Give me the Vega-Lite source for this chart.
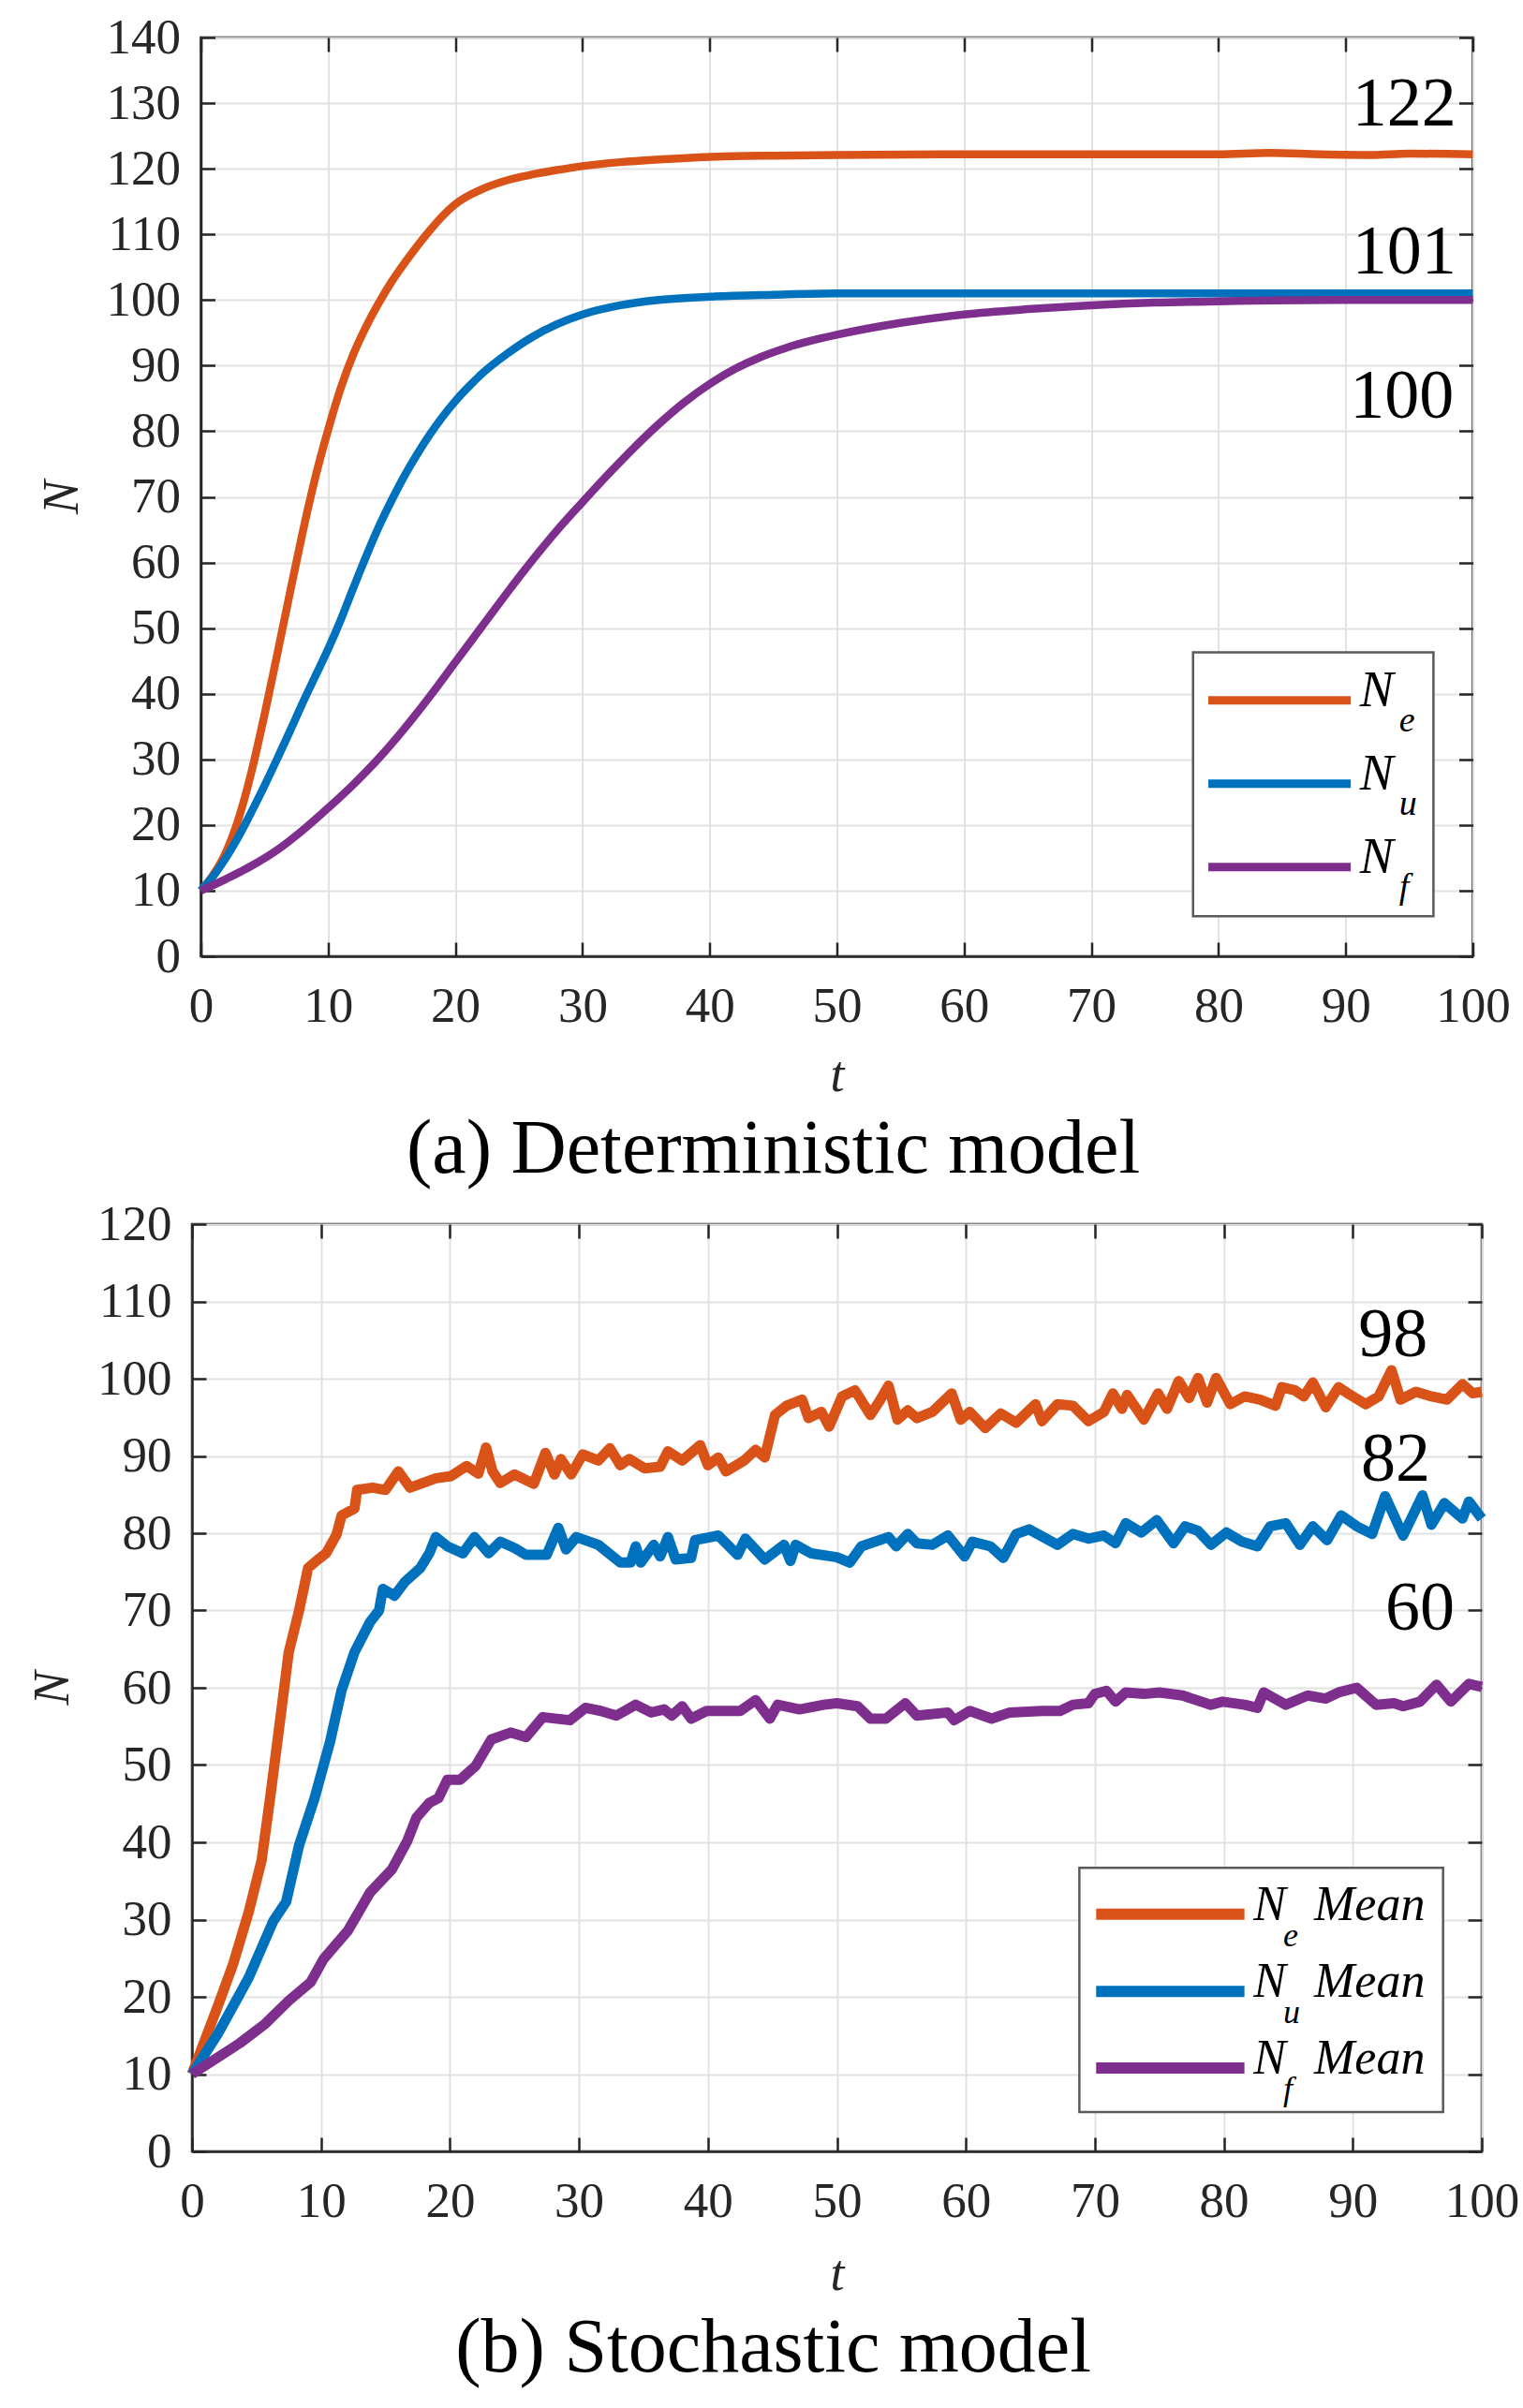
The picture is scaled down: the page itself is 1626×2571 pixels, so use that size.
{
  "$schema": "https://vega.github.io/schema/vega-lite/v6.json",
  "description": "Deterministic and stochastic model of N over t",
  "background": "white",
  "padding": {"left": 28, "top": 12, "right": 0, "bottom": 10},
  "spacing": 9,
  "center": true,
  "config": {
    "font": "Liberation Serif",
    "view": {"stroke": "#262626", "strokeWidth": 2.5},
    "axis": {
      "labelFont": "Liberation Serif",
      "labelFontSize": 53,
      "labelColor": "#262626",
      "labelFlush": false,
      "labelOverlap": false,
      "labelBound": false,
      "tickSize": -15,
      "tickWidth": 2.5,
      "tickColor": "#262626",
      "domainColor": "#262626",
      "domainWidth": 2.5,
      "gridColor": "#e2e2e2",
      "gridWidth": 2,
      "gridOpacity": 1,
      "titleFont": "Liberation Serif",
      "titleFontSize": 54,
      "titleFontStyle": "italic",
      "titleFontWeight": "normal",
      "titleColor": "#262626"
    },
    "axisX": {"titlePadding": 20, "labelPadding": 42},
    "axisY": {"titlePadding": 20, "labelPadding": 37},
    "title": {
      "font": "Liberation Serif",
      "fontSize": 82,
      "fontWeight": "normal",
      "color": "black",
      "orient": "bottom",
      "anchor": "middle",
      "frame": "bounds",
      "offset": 12
    },
    "text": {"font": "Liberation Serif", "color": "black"}
  },
  "datasets": {
    "det": [
      {"s": "Ne", "t": 0, "N": 10}, {"s": "Ne", "t": 1, "N": 12.5}, {"s": "Ne", "t": 2, "N": 16},
      {"s": "Ne", "t": 3, "N": 21.2}, {"s": "Ne", "t": 4, "N": 28.3}, {"s": "Ne", "t": 5, "N": 36.8},
      {"s": "Ne", "t": 6, "N": 46}, {"s": "Ne", "t": 7, "N": 55.4}, {"s": "Ne", "t": 8, "N": 64.6},
      {"s": "Ne", "t": 9, "N": 73}, {"s": "Ne", "t": 10, "N": 80.2}, {"s": "Ne", "t": 11, "N": 86.6},
      {"s": "Ne", "t": 12, "N": 91.8}, {"s": "Ne", "t": 13, "N": 96}, {"s": "Ne", "t": 14, "N": 99.6},
      {"s": "Ne", "t": 15, "N": 102.8}, {"s": "Ne", "t": 16, "N": 105.6}, {"s": "Ne", "t": 17, "N": 108.2},
      {"s": "Ne", "t": 18, "N": 110.6}, {"s": "Ne", "t": 19, "N": 112.8}, {"s": "Ne", "t": 20, "N": 114.6},
      {"s": "Ne", "t": 22, "N": 116.8}, {"s": "Ne", "t": 24, "N": 118.2}, {"s": "Ne", "t": 26, "N": 119.1},
      {"s": "Ne", "t": 28, "N": 119.8}, {"s": "Ne", "t": 30, "N": 120.4}, {"s": "Ne", "t": 33, "N": 121},
      {"s": "Ne", "t": 36, "N": 121.4}, {"s": "Ne", "t": 40, "N": 121.8}, {"s": "Ne", "t": 45, "N": 122},
      {"s": "Ne", "t": 50, "N": 122.1}, {"s": "Ne", "t": 60, "N": 122.2}, {"s": "Ne", "t": 70, "N": 122.2},
      {"s": "Ne", "t": 80, "N": 122.2}, {"s": "Ne", "t": 84, "N": 122.4}, {"s": "Ne", "t": 88, "N": 122.2},
      {"s": "Ne", "t": 92, "N": 122.1}, {"s": "Ne", "t": 95, "N": 122.3}, {"s": "Ne", "t": 100, "N": 122.2},
      {"s": "Nu", "t": 0, "N": 10}, {"s": "Nu", "t": 1, "N": 12.3}, {"s": "Nu", "t": 2, "N": 15.1},
      {"s": "Nu", "t": 3, "N": 18.4}, {"s": "Nu", "t": 4, "N": 22.1}, {"s": "Nu", "t": 5, "N": 26},
      {"s": "Nu", "t": 6, "N": 30.1}, {"s": "Nu", "t": 7, "N": 34.3}, {"s": "Nu", "t": 8, "N": 38.6},
      {"s": "Nu", "t": 9, "N": 42.7}, {"s": "Nu", "t": 10, "N": 46.8}, {"s": "Nu", "t": 11, "N": 51.3},
      {"s": "Nu", "t": 12, "N": 56.2}, {"s": "Nu", "t": 13, "N": 61}, {"s": "Nu", "t": 14, "N": 65.5},
      {"s": "Nu", "t": 15, "N": 69.5}, {"s": "Nu", "t": 16, "N": 73.2}, {"s": "Nu", "t": 17, "N": 76.5},
      {"s": "Nu", "t": 18, "N": 79.5}, {"s": "Nu", "t": 19, "N": 82.2}, {"s": "Nu", "t": 20, "N": 84.6},
      {"s": "Nu", "t": 21, "N": 86.7}, {"s": "Nu", "t": 22, "N": 88.6}, {"s": "Nu", "t": 24, "N": 91.7},
      {"s": "Nu", "t": 26, "N": 94.3}, {"s": "Nu", "t": 28, "N": 96.3}, {"s": "Nu", "t": 30, "N": 97.8},
      {"s": "Nu", "t": 33, "N": 99.2}, {"s": "Nu", "t": 36, "N": 100}, {"s": "Nu", "t": 40, "N": 100.5},
      {"s": "Nu", "t": 45, "N": 100.8}, {"s": "Nu", "t": 50, "N": 101}, {"s": "Nu", "t": 60, "N": 101},
      {"s": "Nu", "t": 70, "N": 101}, {"s": "Nu", "t": 80, "N": 101}, {"s": "Nu", "t": 90, "N": 101},
      {"s": "Nu", "t": 100, "N": 101},
      {"s": "Nf", "t": 0, "N": 10}, {"s": "Nf", "t": 2, "N": 11.8}, {"s": "Nf", "t": 4, "N": 13.8},
      {"s": "Nf", "t": 6, "N": 16.2}, {"s": "Nf", "t": 8, "N": 19.2}, {"s": "Nf", "t": 10, "N": 22.6},
      {"s": "Nf", "t": 12, "N": 26.2}, {"s": "Nf", "t": 14, "N": 30.2}, {"s": "Nf", "t": 16, "N": 34.7},
      {"s": "Nf", "t": 18, "N": 39.6}, {"s": "Nf", "t": 20, "N": 44.8}, {"s": "Nf", "t": 22, "N": 50},
      {"s": "Nf", "t": 24, "N": 55.2}, {"s": "Nf", "t": 26, "N": 60.2}, {"s": "Nf", "t": 28, "N": 64.9},
      {"s": "Nf", "t": 30, "N": 69.2}, {"s": "Nf", "t": 32, "N": 73.4}, {"s": "Nf", "t": 34, "N": 77.4},
      {"s": "Nf", "t": 36, "N": 81.1}, {"s": "Nf", "t": 38, "N": 84.4}, {"s": "Nf", "t": 40, "N": 87.2},
      {"s": "Nf", "t": 42, "N": 89.5}, {"s": "Nf", "t": 44, "N": 91.3}, {"s": "Nf", "t": 46, "N": 92.7},
      {"s": "Nf", "t": 48, "N": 93.8}, {"s": "Nf", "t": 50, "N": 94.7}, {"s": "Nf", "t": 55, "N": 96.5},
      {"s": "Nf", "t": 60, "N": 97.8}, {"s": "Nf", "t": 65, "N": 98.6}, {"s": "Nf", "t": 70, "N": 99.2},
      {"s": "Nf", "t": 75, "N": 99.6}, {"s": "Nf", "t": 80, "N": 99.8}, {"s": "Nf", "t": 90, "N": 100},
      {"s": "Nf", "t": 100, "N": 100}
    ],
    "sto": [
      {"s": "Ne", "t": 0, "N": 10}, {"s": "Ne", "t": 2, "N": 18.8}, {"s": "Ne", "t": 3.2, "N": 24.3},
      {"s": "Ne", "t": 4.4, "N": 31}, {"s": "Ne", "t": 5.4, "N": 37.7}, {"s": "Ne", "t": 6.1, "N": 46.3},
      {"s": "Ne", "t": 6.8, "N": 55.4}, {"s": "Ne", "t": 7.5, "N": 64.6}, {"s": "Ne", "t": 8.3, "N": 70},
      {"s": "Ne", "t": 9, "N": 75.5}, {"s": "Ne", "t": 9.7, "N": 76.5}, {"s": "Ne", "t": 10.4, "N": 77.4},
      {"s": "Ne", "t": 11.2, "N": 79.8}, {"s": "Ne", "t": 11.6, "N": 82.3}, {"s": "Ne", "t": 12.6, "N": 83.2},
      {"s": "Ne", "t": 12.8, "N": 85.6}, {"s": "Ne", "t": 14, "N": 85.9}, {"s": "Ne", "t": 15, "N": 85.6},
      {"s": "Ne", "t": 16, "N": 88}, {"s": "Ne", "t": 16.9, "N": 85.9}, {"s": "Ne", "t": 18.9, "N": 87.1},
      {"s": "Ne", "t": 20.1, "N": 87.4}, {"s": "Ne", "t": 21.3, "N": 88.7}, {"s": "Ne", "t": 22.2, "N": 87.7},
      {"s": "Ne", "t": 22.8, "N": 91.1}, {"s": "Ne", "t": 23.3, "N": 88}, {"s": "Ne", "t": 23.9, "N": 86.5},
      {"s": "Ne", "t": 25, "N": 87.6}, {"s": "Ne", "t": 26.5, "N": 86.4}, {"s": "Ne", "t": 27.4, "N": 90.4},
      {"s": "Ne", "t": 28.1, "N": 87.6}, {"s": "Ne", "t": 28.6, "N": 89.6}, {"s": "Ne", "t": 29.4, "N": 87.6},
      {"s": "Ne", "t": 30.3, "N": 90.2}, {"s": "Ne", "t": 31.5, "N": 89.4}, {"s": "Ne", "t": 32.4, "N": 91},
      {"s": "Ne", "t": 33.2, "N": 88.8}, {"s": "Ne", "t": 33.9, "N": 89.6}, {"s": "Ne", "t": 35.1, "N": 88.4},
      {"s": "Ne", "t": 36.3, "N": 88.6}, {"s": "Ne", "t": 36.9, "N": 90.6}, {"s": "Ne", "t": 38, "N": 89.4},
      {"s": "Ne", "t": 39.4, "N": 91.4}, {"s": "Ne", "t": 40, "N": 88.8}, {"s": "Ne", "t": 40.8, "N": 89.8},
      {"s": "Ne", "t": 41.4, "N": 88}, {"s": "Ne", "t": 42.8, "N": 89.4}, {"s": "Ne", "t": 43.7, "N": 90.8},
      {"s": "Ne", "t": 44.4, "N": 89.8}, {"s": "Ne", "t": 45.2, "N": 95.3}, {"s": "Ne", "t": 46.1, "N": 96.5},
      {"s": "Ne", "t": 47.3, "N": 97.3}, {"s": "Ne", "t": 47.8, "N": 94.9}, {"s": "Ne", "t": 48.8, "N": 95.7},
      {"s": "Ne", "t": 49.4, "N": 93.8}, {"s": "Ne", "t": 50.4, "N": 97.7}, {"s": "Ne", "t": 51.4, "N": 98.5},
      {"s": "Ne", "t": 52.6, "N": 95.3}, {"s": "Ne", "t": 53.3, "N": 97.1}, {"s": "Ne", "t": 54, "N": 99.1},
      {"s": "Ne", "t": 54.7, "N": 94.7}, {"s": "Ne", "t": 55.5, "N": 95.9}, {"s": "Ne", "t": 56.2, "N": 94.9},
      {"s": "Ne", "t": 57.4, "N": 95.7}, {"s": "Ne", "t": 58.9, "N": 98.1}, {"s": "Ne", "t": 59.6, "N": 94.7},
      {"s": "Ne", "t": 60.3, "N": 95.7}, {"s": "Ne", "t": 61.5, "N": 93.6}, {"s": "Ne", "t": 62.7, "N": 95.5},
      {"s": "Ne", "t": 63.9, "N": 94.3}, {"s": "Ne", "t": 65.4, "N": 96.7}, {"s": "Ne", "t": 65.9, "N": 94.5},
      {"s": "Ne", "t": 67.1, "N": 96.7}, {"s": "Ne", "t": 68.3, "N": 96.5}, {"s": "Ne", "t": 69.5, "N": 94.5},
      {"s": "Ne", "t": 70.7, "N": 95.7}, {"s": "Ne", "t": 71.4, "N": 98.1}, {"s": "Ne", "t": 72.1, "N": 96.1},
      {"s": "Ne", "t": 72.5, "N": 97.9}, {"s": "Ne", "t": 73.8, "N": 94.7}, {"s": "Ne", "t": 74.9, "N": 98.1},
      {"s": "Ne", "t": 75.6, "N": 96.1}, {"s": "Ne", "t": 76.5, "N": 99.7}, {"s": "Ne", "t": 77.3, "N": 97.5},
      {"s": "Ne", "t": 78, "N": 100.1}, {"s": "Ne", "t": 78.7, "N": 96.9}, {"s": "Ne", "t": 79.4, "N": 100.1},
      {"s": "Ne", "t": 80.5, "N": 96.7}, {"s": "Ne", "t": 81.6, "N": 97.7}, {"s": "Ne", "t": 82.8, "N": 97.3},
      {"s": "Ne", "t": 84, "N": 96.5}, {"s": "Ne", "t": 84.5, "N": 98.9}, {"s": "Ne", "t": 85.5, "N": 98.5},
      {"s": "Ne", "t": 86.2, "N": 97.7}, {"s": "Ne", "t": 86.9, "N": 99.5}, {"s": "Ne", "t": 87.9, "N": 96.3},
      {"s": "Ne", "t": 88.9, "N": 98.9}, {"s": "Ne", "t": 89.8, "N": 97.9}, {"s": "Ne", "t": 91, "N": 96.7},
      {"s": "Ne", "t": 92, "N": 97.7}, {"s": "Ne", "t": 93, "N": 101.1}, {"s": "Ne", "t": 93.7, "N": 97.3},
      {"s": "Ne", "t": 94.9, "N": 98.3}, {"s": "Ne", "t": 96.1, "N": 97.7}, {"s": "Ne", "t": 97.3, "N": 97.3},
      {"s": "Ne", "t": 98.5, "N": 99.3}, {"s": "Ne", "t": 99.3, "N": 98.1}, {"s": "Ne", "t": 100, "N": 98.3},
      {"s": "Nu", "t": 0, "N": 10}, {"s": "Nu", "t": 2, "N": 15.2}, {"s": "Nu", "t": 4.4, "N": 22.5},
      {"s": "Nu", "t": 6.3, "N": 29.8}, {"s": "Nu", "t": 7.3, "N": 32.3}, {"s": "Nu", "t": 8.3, "N": 39.6},
      {"s": "Nu", "t": 9.5, "N": 45.7}, {"s": "Nu", "t": 10.7, "N": 53}, {"s": "Nu", "t": 11.6, "N": 59.7},
      {"s": "Nu", "t": 12.6, "N": 64.6}, {"s": "Nu", "t": 13.8, "N": 68.5}, {"s": "Nu", "t": 14.5, "N": 70},
      {"s": "Nu", "t": 14.8, "N": 72.8}, {"s": "Nu", "t": 15.7, "N": 71.9}, {"s": "Nu", "t": 16.5, "N": 73.7},
      {"s": "Nu", "t": 17.7, "N": 75.5}, {"s": "Nu", "t": 18.4, "N": 77.4}, {"s": "Nu", "t": 18.9, "N": 79.5},
      {"s": "Nu", "t": 19.8, "N": 78.3}, {"s": "Nu", "t": 21, "N": 77.4}, {"s": "Nu", "t": 21.9, "N": 79.5},
      {"s": "Nu", "t": 23, "N": 77.4}, {"s": "Nu", "t": 23.9, "N": 78.9}, {"s": "Nu", "t": 25, "N": 78.1},
      {"s": "Nu", "t": 25.9, "N": 77.2}, {"s": "Nu", "t": 27.5, "N": 77.2}, {"s": "Nu", "t": 28.4, "N": 80.7},
      {"s": "Nu", "t": 29, "N": 77.9}, {"s": "Nu", "t": 29.8, "N": 79.5}, {"s": "Nu", "t": 31.5, "N": 78.5},
      {"s": "Nu", "t": 33.2, "N": 76.2}, {"s": "Nu", "t": 34, "N": 76.2}, {"s": "Nu", "t": 34.4, "N": 78.3},
      {"s": "Nu", "t": 34.8, "N": 76.2}, {"s": "Nu", "t": 35.8, "N": 78.5}, {"s": "Nu", "t": 36.3, "N": 77},
      {"s": "Nu", "t": 36.9, "N": 79.5}, {"s": "Nu", "t": 37.5, "N": 76.6}, {"s": "Nu", "t": 38.7, "N": 76.8},
      {"s": "Nu", "t": 39, "N": 79.1}, {"s": "Nu", "t": 40.8, "N": 79.7}, {"s": "Nu", "t": 42.3, "N": 77.2},
      {"s": "Nu", "t": 42.9, "N": 79.3}, {"s": "Nu", "t": 44.4, "N": 76.6}, {"s": "Nu", "t": 45.9, "N": 78.5},
      {"s": "Nu", "t": 46.4, "N": 76.4}, {"s": "Nu", "t": 46.8, "N": 78.5}, {"s": "Nu", "t": 48, "N": 77.4},
      {"s": "Nu", "t": 50, "N": 76.9}, {"s": "Nu", "t": 51, "N": 76.2}, {"s": "Nu", "t": 51.9, "N": 78.3},
      {"s": "Nu", "t": 54, "N": 79.5}, {"s": "Nu", "t": 54.6, "N": 78.3}, {"s": "Nu", "t": 55.5, "N": 79.9},
      {"s": "Nu", "t": 56.2, "N": 78.7}, {"s": "Nu", "t": 57.4, "N": 78.5}, {"s": "Nu", "t": 58.6, "N": 79.7},
      {"s": "Nu", "t": 59.9, "N": 77}, {"s": "Nu", "t": 60.5, "N": 78.9}, {"s": "Nu", "t": 61.9, "N": 78.3},
      {"s": "Nu", "t": 62.9, "N": 76.8}, {"s": "Nu", "t": 63.9, "N": 79.9}, {"s": "Nu", "t": 64.9, "N": 80.5},
      {"s": "Nu", "t": 67.1, "N": 78.5}, {"s": "Nu", "t": 68.3, "N": 79.9}, {"s": "Nu", "t": 69.5, "N": 79.3},
      {"s": "Nu", "t": 70.7, "N": 79.7}, {"s": "Nu", "t": 71.6, "N": 78.7}, {"s": "Nu", "t": 72.4, "N": 81.3},
      {"s": "Nu", "t": 73.6, "N": 80.1}, {"s": "Nu", "t": 74.8, "N": 81.7}, {"s": "Nu", "t": 76.1, "N": 78.7},
      {"s": "Nu", "t": 77, "N": 80.9}, {"s": "Nu", "t": 78, "N": 80.3}, {"s": "Nu", "t": 79, "N": 78.5},
      {"s": "Nu", "t": 80.2, "N": 80.1}, {"s": "Nu", "t": 81.4, "N": 78.9}, {"s": "Nu", "t": 82.6, "N": 78.3},
      {"s": "Nu", "t": 83.6, "N": 80.9}, {"s": "Nu", "t": 84.8, "N": 81.3}, {"s": "Nu", "t": 85.9, "N": 78.5},
      {"s": "Nu", "t": 86.9, "N": 80.9}, {"s": "Nu", "t": 88, "N": 79.1}, {"s": "Nu", "t": 89.1, "N": 82.3},
      {"s": "Nu", "t": 90.3, "N": 80.9}, {"s": "Nu", "t": 91.5, "N": 79.9}, {"s": "Nu", "t": 92.5, "N": 84.8},
      {"s": "Nu", "t": 93.9, "N": 79.7}, {"s": "Nu", "t": 95.4, "N": 84.9}, {"s": "Nu", "t": 96.1, "N": 81.1},
      {"s": "Nu", "t": 97.1, "N": 83.9}, {"s": "Nu", "t": 98.5, "N": 81.9}, {"s": "Nu", "t": 99, "N": 84.1},
      {"s": "Nu", "t": 100, "N": 81.9},
      {"s": "Nf", "t": 0, "N": 10}, {"s": "Nf", "t": 3.7, "N": 14}, {"s": "Nf", "t": 5.6, "N": 16.4},
      {"s": "Nf", "t": 7.5, "N": 19.5}, {"s": "Nf", "t": 9.2, "N": 21.9}, {"s": "Nf", "t": 10.2, "N": 24.9},
      {"s": "Nf", "t": 12.1, "N": 28.6}, {"s": "Nf", "t": 13.8, "N": 33.5}, {"s": "Nf", "t": 15.5, "N": 36.5},
      {"s": "Nf", "t": 16.7, "N": 40.2}, {"s": "Nf", "t": 17.4, "N": 43.2}, {"s": "Nf", "t": 18.4, "N": 45.1},
      {"s": "Nf", "t": 19.1, "N": 45.7}, {"s": "Nf", "t": 19.8, "N": 48.1}, {"s": "Nf", "t": 20.8, "N": 48.1},
      {"s": "Nf", "t": 22, "N": 49.9}, {"s": "Nf", "t": 23.2, "N": 53.3}, {"s": "Nf", "t": 24.7, "N": 54.2},
      {"s": "Nf", "t": 25.9, "N": 53.6}, {"s": "Nf", "t": 27.2, "N": 56.2}, {"s": "Nf", "t": 29.3, "N": 55.8},
      {"s": "Nf", "t": 30.5, "N": 57.4}, {"s": "Nf", "t": 31.7, "N": 57}, {"s": "Nf", "t": 32.9, "N": 56.4},
      {"s": "Nf", "t": 34.4, "N": 57.8}, {"s": "Nf", "t": 35.6, "N": 56.8}, {"s": "Nf", "t": 36.6, "N": 57.2},
      {"s": "Nf", "t": 37.2, "N": 56.4}, {"s": "Nf", "t": 38, "N": 57.6}, {"s": "Nf", "t": 38.7, "N": 56},
      {"s": "Nf", "t": 39.9, "N": 57}, {"s": "Nf", "t": 42.5, "N": 57}, {"s": "Nf", "t": 43.7, "N": 58.4},
      {"s": "Nf", "t": 44.8, "N": 56}, {"s": "Nf", "t": 45.4, "N": 57.8}, {"s": "Nf", "t": 47.1, "N": 57.2},
      {"s": "Nf", "t": 49, "N": 57.8}, {"s": "Nf", "t": 50, "N": 58}, {"s": "Nf", "t": 51.6, "N": 57.6},
      {"s": "Nf", "t": 52.6, "N": 56}, {"s": "Nf", "t": 53.8, "N": 56}, {"s": "Nf", "t": 55.3, "N": 58},
      {"s": "Nf", "t": 56.2, "N": 56.4}, {"s": "Nf", "t": 58.6, "N": 56.8}, {"s": "Nf", "t": 59.1, "N": 55.8},
      {"s": "Nf", "t": 60.3, "N": 57}, {"s": "Nf", "t": 62, "N": 56}, {"s": "Nf", "t": 63.4, "N": 56.8},
      {"s": "Nf", "t": 65.9, "N": 57}, {"s": "Nf", "t": 67.3, "N": 57}, {"s": "Nf", "t": 68.3, "N": 57.8},
      {"s": "Nf", "t": 69.5, "N": 58}, {"s": "Nf", "t": 70, "N": 59.2}, {"s": "Nf", "t": 70.9, "N": 59.6},
      {"s": "Nf", "t": 71.6, "N": 58.2}, {"s": "Nf", "t": 72.4, "N": 59.4}, {"s": "Nf", "t": 73.8, "N": 59.2},
      {"s": "Nf", "t": 75, "N": 59.4}, {"s": "Nf", "t": 76.8, "N": 59}, {"s": "Nf", "t": 79, "N": 57.8},
      {"s": "Nf", "t": 79.9, "N": 58.2}, {"s": "Nf", "t": 81.6, "N": 57.8}, {"s": "Nf", "t": 82.6, "N": 57.4},
      {"s": "Nf", "t": 83.1, "N": 59.4}, {"s": "Nf", "t": 84.8, "N": 57.8}, {"s": "Nf", "t": 86.5, "N": 59},
      {"s": "Nf", "t": 87.9, "N": 58.6}, {"s": "Nf", "t": 88.9, "N": 59.4}, {"s": "Nf", "t": 90.3, "N": 60},
      {"s": "Nf", "t": 91.8, "N": 57.8}, {"s": "Nf", "t": 93.2, "N": 58}, {"s": "Nf", "t": 93.9, "N": 57.6},
      {"s": "Nf", "t": 95.2, "N": 58.2}, {"s": "Nf", "t": 96.5, "N": 60.4}, {"s": "Nf", "t": 97.6, "N": 58.2},
      {"s": "Nf", "t": 99, "N": 60.5}, {"s": "Nf", "t": 100, "N": 60.1}
    ],
    "notesA": [
      {"label": "122", "t": 98.7, "N": 126.6},
      {"label": "101", "t": 98.7, "N": 104},
      {"label": "100", "t": 98.5, "N": 82.1}
    ],
    "notesB": [
      {"label": "98", "t": 95.8, "N": 102.9},
      {"label": "82", "t": 96, "N": 86.8},
      {"label": "60", "t": 97.9, "N": 67.5}
    ],
    "legA": [
      {"s": "Ne", "sub": "e", "ly": 39},
      {"s": "Nu", "sub": "u", "ly": 26.3},
      {"s": "Nf", "sub": "f", "ly": 13.6}
    ],
    "legB": [
      {"s": "Ne", "sub": "e", "ly": 30.7},
      {"s": "Nu", "sub": "u", "ly": 20.7},
      {"s": "Nf", "sub": "f", "ly": 10.8}
    ]
  },
  "vconcat": [
    {
      "width": 1358,
      "height": 981,
      "title": {"text": "(a) Deterministic model"},
      "resolve": {"axis": {"x": "independent", "y": "independent"}},
      "layer": [
        {
          "data": {"name": "det"},
          "mark": {"type": "line", "strokeWidth": 8.5, "interpolate": "monotone"},
          "encoding": {
            "x": {"field": "t", "type": "quantitative",
                  "scale": {"domain": [0, 100], "nice": false},
                  "axis": {"values": [0, 10, 20, 30, 40, 50, 60, 70, 80, 90, 100], "title": "t"}},
            "y": {"field": "N", "type": "quantitative",
                  "scale": {"domain": [0, 140], "nice": false},
                  "axis": {"values": [0, 10, 20, 30, 40, 50, 60, 70, 80, 90, 100, 110, 120, 130, 140], "title": "N"}},
            "color": {"field": "s", "type": "nominal",
                      "scale": {"domain": ["Ne", "Nu", "Nf"], "range": ["#D95319", "#0072BD", "#7E2F8E"]},
                      "legend": null}
          }
        },
        {
          "data": {"name": "notesA"},
          "mark": {"type": "text", "align": "right", "baseline": "alphabetic", "fontSize": 74, "font": "Liberation Serif"},
          "encoding": {
            "x": {"field": "t", "type": "quantitative",
                  "axis": {"orient": "top", "labels": false, "domain": false, "grid": false, "title": null,
                           "values": [0, 10, 20, 30, 40, 50, 60, 70, 80, 90, 100]}},
            "y": {"field": "N", "type": "quantitative",
                  "axis": {"orient": "right", "labels": false, "domain": false, "grid": false, "title": null,
                           "values": [0, 10, 20, 30, 40, 50, 60, 70, 80, 90, 100, 110, 120, 130, 140]}},
            "text": {"field": "label"}
          }
        },
        {
          "data": {"values": [{}]},
          "mark": {"type": "rect", "fill": "white", "stroke": "#5a5a5a", "strokeWidth": 2.5},
          "encoding": {
            "x": {"datum": 78, "axis": null}, "x2": {"datum": 96.9},
            "y": {"datum": 46.3, "axis": null}, "y2": {"datum": 6.1}
          }
        },
        {
          "data": {"name": "legA"},
          "mark": {"type": "rule", "strokeWidth": 9},
          "encoding": {
            "x": {"datum": 79.2, "axis": null}, "x2": {"datum": 90.4},
            "y": {"field": "ly", "type": "quantitative", "axis": null},
            "color": {"field": "s", "type": "nominal", "legend": null}
          }
        },
        {
          "data": {"name": "legA"},
          "mark": {"type": "text", "text": "N", "align": "left", "baseline": "middle", "dy": -10, "fontSize": 54, "fontStyle": "italic", "font": "Liberation Serif"},
          "encoding": {
            "x": {"datum": 91.1, "axis": null},
            "y": {"field": "ly", "type": "quantitative", "axis": null}
          }
        },
        {
          "data": {"name": "legA"},
          "mark": {"type": "text", "align": "left", "baseline": "middle", "dy": 22, "fontSize": 38, "fontStyle": "italic", "font": "Liberation Serif"},
          "encoding": {
            "x": {"datum": 94.2, "axis": null},
            "y": {"field": "ly", "type": "quantitative", "axis": null},
            "text": {"field": "sub"}
          }
        }
      ]
    },
    {
      "width": 1377,
      "height": 990,
      "title": {"text": "(b) Stochastic model"},
      "resolve": {"axis": {"x": "independent", "y": "independent"}},
      "layer": [
        {
          "data": {"name": "sto"},
          "mark": {"type": "line", "strokeWidth": 11, "strokeJoin": "round"},
          "encoding": {
            "x": {"field": "t", "type": "quantitative",
                  "scale": {"domain": [0, 100], "nice": false},
                  "axis": {"values": [0, 10, 20, 30, 40, 50, 60, 70, 80, 90, 100], "title": "t", "titlePadding": 24}},
            "y": {"field": "N", "type": "quantitative",
                  "scale": {"domain": [0, 120], "nice": false},
                  "axis": {"values": [0, 10, 20, 30, 40, 50, 60, 70, 80, 90, 100, 110, 120], "title": "N"}},
            "color": {"field": "s", "type": "nominal",
                      "scale": {"domain": ["Ne", "Nu", "Nf"], "range": ["#D95319", "#0072BD", "#7E2F8E"]},
                      "legend": null}
          }
        },
        {
          "data": {"name": "notesB"},
          "mark": {"type": "text", "align": "right", "baseline": "alphabetic", "fontSize": 74, "font": "Liberation Serif"},
          "encoding": {
            "x": {"field": "t", "type": "quantitative",
                  "axis": {"orient": "top", "labels": false, "domain": false, "grid": false, "title": null,
                           "values": [0, 10, 20, 30, 40, 50, 60, 70, 80, 90, 100]}},
            "y": {"field": "N", "type": "quantitative",
                  "axis": {"orient": "right", "labels": false, "domain": false, "grid": false, "title": null,
                           "values": [0, 10, 20, 30, 40, 50, 60, 70, 80, 90, 100, 110, 120]}},
            "text": {"field": "label"}
          }
        },
        {
          "data": {"values": [{}]},
          "mark": {"type": "rect", "fill": "white", "stroke": "#5a5a5a", "strokeWidth": 2.5},
          "encoding": {
            "x": {"datum": 68.8, "axis": null}, "x2": {"datum": 97},
            "y": {"datum": 36.7, "axis": null}, "y2": {"datum": 5.1}
          }
        },
        {
          "data": {"name": "legB"},
          "mark": {"type": "rule", "strokeWidth": 12},
          "encoding": {
            "x": {"datum": 70.1, "axis": null}, "x2": {"datum": 81.6},
            "y": {"field": "ly", "type": "quantitative", "axis": null},
            "color": {"field": "s", "type": "nominal", "legend": null}
          }
        },
        {
          "data": {"name": "legB"},
          "mark": {"type": "text", "text": "N", "align": "left", "baseline": "middle", "dy": -10, "fontSize": 52, "fontStyle": "italic", "font": "Liberation Serif"},
          "encoding": {
            "x": {"datum": 82.3, "axis": null},
            "y": {"field": "ly", "type": "quantitative", "axis": null}
          }
        },
        {
          "data": {"name": "legB"},
          "mark": {"type": "text", "align": "left", "baseline": "middle", "dy": 23, "fontSize": 36, "fontStyle": "italic", "font": "Liberation Serif"},
          "encoding": {
            "x": {"datum": 84.6, "axis": null},
            "y": {"field": "ly", "type": "quantitative", "axis": null},
            "text": {"field": "sub"}
          }
        },
        {
          "data": {"name": "legB"},
          "mark": {"type": "text", "text": "Mean", "align": "left", "baseline": "middle", "dy": -10, "fontSize": 52, "fontStyle": "italic", "font": "Liberation Serif"},
          "encoding": {
            "x": {"datum": 87, "axis": null},
            "y": {"field": "ly", "type": "quantitative", "axis": null}
          }
        }
      ]
    }
  ]
}
